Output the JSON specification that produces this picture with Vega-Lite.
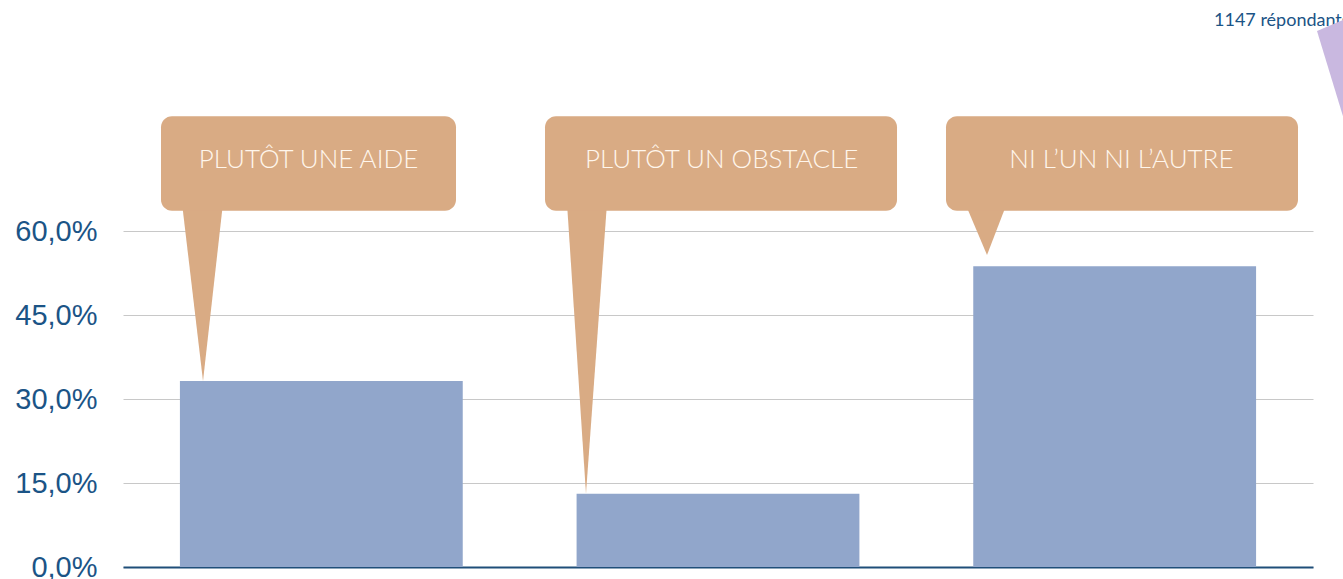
{
  "$schema": "https://vega.github.io/schema/vega-lite/v6.json",
  "width": 1190,
  "height": 560,
  "autosize": {"type": "none"},
  "padding": {"left": 123, "top": 7, "right": 30, "bottom": 12},
  "background": "white",
  "config": {"view": {"stroke": null}},
  "datasets": {
    "bars": [
      {"reponse": "PLUTÔT UNE AIDE", "pct": 33.2},
      {"reponse": "PLUTÔT UN OBSTACLE", "pct": 13.1},
      {"reponse": "NI L’UN NI L’AUTRE", "pct": 53.7}
    ],
    "boxes": [
      {"reponse": "PLUTÔT UNE AIDE", "x0": 0.0958, "x1": 0.8395, "xc": 0.4677, "y0": 63.6, "y1": 80.5, "yc": 72.7},
      {"reponse": "PLUTÔT UN OBSTACLE", "x0": 1.0639, "x1": 1.9513, "xc": 1.509, "y0": 63.6, "y1": 80.5, "yc": 72.7},
      {"reponse": "NI L’UN NI L’AUTRE", "x0": 2.0748, "x1": 2.9622, "xc": 2.517, "y0": 63.6, "y1": 80.5, "yc": 72.7}
    ],
    "pointers": [
      {"id": 1, "x": 0.1487, "y": 65, "y2": 65},
      {"id": 1, "x": 0.2017, "y": 33.2, "y2": 65},
      {"id": 1, "x": 0.2521, "y": 65, "y2": 65},
      {"id": 2, "x": 1.1193, "y": 65, "y2": 65},
      {"id": 2, "x": 1.1672, "y": 13.1, "y2": 65},
      {"id": 2, "x": 1.2202, "y": 65, "y2": 65},
      {"id": 3, "x": 2.1227, "y": 65, "y2": 65},
      {"id": 3, "x": 2.1782, "y": 55.7, "y2": 65},
      {"id": 3, "x": 2.2286, "y": 65, "y2": 65}
    ],
    "note": [{"label": "1147 répondants", "x": 2.7505, "y": 96.6}],
    "deco": [
      {"x": 3.0101, "y": 95.7, "y2": 95.7},
      {"x": 3.08, "y": 79.5, "y2": 97.8}
    ]
  },
  "layer": [
    {
      "data": {"name": "bars"},
      "mark": {"type": "bar", "color": "#91A6CB"},
      "encoding": {
        "x": {
          "field": "reponse", "type": "nominal", "sort": null,
          "scale": {"paddingInner": 0.287, "paddingOuter": 0.1435},
          "axis": {"title": null, "labels": false, "ticks": false, "domainColor": "#1F4E79", "domainWidth": 2}
        },
        "y": {
          "field": "pct", "type": "quantitative",
          "scale": {"domain": [0, 100], "nice": false},
          "axis": {
            "title": null, "values": [0, 15, 30, 45, 60],
            "labelExpr": "replace(format(datum.value, '.1f'), '.', ',') + '%'",
            "grid": true, "gridColor": "#C8C8C8", "gridWidth": 1,
            "domain": false, "ticks": false, "labelPadding": 26,
            "labelFont": "Liberation Sans", "labelFontSize": 29, "labelColor": "#1B5486"
          }
        }
      }
    },
    {
      "data": {"name": "pointers"},
      "mark": {"type": "area", "color": "#D9AB84", "opacity": 1},
      "encoding": {
        "x": {"field": "x", "type": "quantitative", "scale": {"domain": [0, 3], "nice": false, "zero": false}, "axis": null},
        "y": {"field": "y", "type": "quantitative", "title": null},
        "y2": {"field": "y2"},
        "detail": {"field": "id", "type": "nominal"}
      }
    },
    {
      "data": {"name": "boxes"},
      "mark": {"type": "rect", "color": "#D9AB84", "cornerRadius": 11},
      "encoding": {
        "x": {"field": "x0", "type": "quantitative", "scale": {"domain": [0, 3], "nice": false, "zero": false}, "axis": null},
        "x2": {"field": "x1"},
        "y": {"field": "y0", "type": "quantitative", "title": null},
        "y2": {"field": "y1"}
      }
    },
    {
      "data": {"name": "boxes"},
      "mark": {"type": "text", "color": "#FFF6EC", "font": "Lato", "fontWeight": 300, "fontSize": 26, "align": "center", "baseline": "middle"},
      "encoding": {
        "x": {"field": "xc", "type": "quantitative", "scale": {"domain": [0, 3], "nice": false, "zero": false}, "axis": null},
        "y": {"field": "yc", "type": "quantitative", "title": null},
        "text": {"field": "reponse"}
      }
    },
    {
      "data": {"name": "note"},
      "mark": {"type": "text", "color": "#1B5486", "font": "Lato", "fontSize": 18, "align": "left", "baseline": "alphabetic"},
      "encoding": {
        "x": {"field": "x", "type": "quantitative", "scale": {"domain": [0, 3], "nice": false, "zero": false}, "axis": null},
        "y": {"field": "y", "type": "quantitative", "title": null},
        "text": {"field": "label"}
      }
    },
    {
      "data": {"name": "deco"},
      "mark": {"type": "area", "color": "#C9B8E0", "opacity": 1},
      "encoding": {
        "x": {"field": "x", "type": "quantitative", "scale": {"domain": [0, 3], "nice": false, "zero": false}, "axis": null},
        "y": {"field": "y", "type": "quantitative", "title": null},
        "y2": {"field": "y2"}
      }
    }
  ],
  "resolve": {"scale": {"x": "independent"}, "axis": {"x": "independent"}}
}
